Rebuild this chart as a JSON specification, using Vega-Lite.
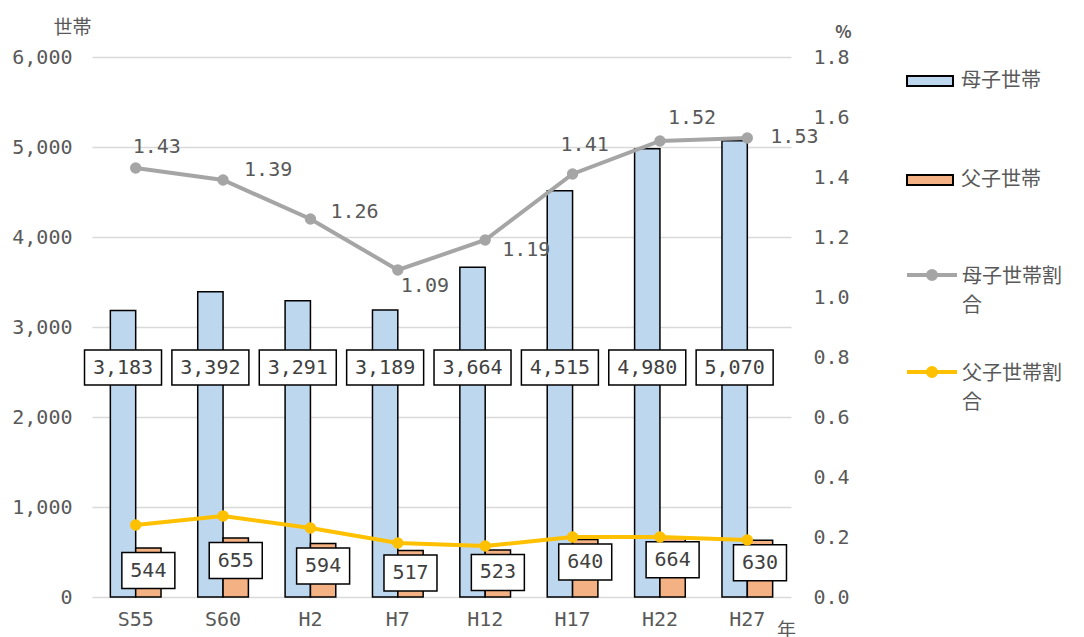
{
  "$schema": "https://vega.github.io/schema/vega-lite/v6.json",
  "width": 699,
  "height": 540,
  "autosize": {"type": "none"},
  "padding": {"left": 92, "top": 57, "right": 293, "bottom": 40},
  "background": "white",
  "config": {
    "view": {"stroke": null},
    "axis": {"labelFont": "DejaVu Sans Mono", "labelFontSize": 20, "labelColor": "#595959"}
  },
  "data": {
    "values": [
      {"年": "S55", "母子世帯": 3183, "父子世帯": 544, "母子世帯割合": 1.43, "父子世帯割合": 0.24},
      {"年": "S60", "母子世帯": 3392, "父子世帯": 655, "母子世帯割合": 1.39, "父子世帯割合": 0.27},
      {"年": "H2", "母子世帯": 3291, "父子世帯": 594, "母子世帯割合": 1.26, "父子世帯割合": 0.23},
      {"年": "H7", "母子世帯": 3189, "父子世帯": 517, "母子世帯割合": 1.09, "父子世帯割合": 0.18},
      {"年": "H12", "母子世帯": 3664, "父子世帯": 523, "母子世帯割合": 1.19, "父子世帯割合": 0.17},
      {"年": "H17", "母子世帯": 4515, "父子世帯": 640, "母子世帯割合": 1.41, "父子世帯割合": 0.20},
      {"年": "H22", "母子世帯": 4980, "父子世帯": 664, "母子世帯割合": 1.52, "父子世帯割合": 0.20},
      {"年": "H27", "母子世帯": 5070, "父子世帯": 630, "母子世帯割合": 1.53, "父子世帯割合": 0.19}
    ]
  },
  "layer": [
    {
      "transform": [{"fold": ["母子世帯", "父子世帯"], "as": ["種別", "世帯数"]}],
      "encoding": {
        "x": {
          "field": "年", "type": "nominal",
          "sort": ["S55", "S60", "H2", "H7", "H12", "H17", "H22", "H27"],
          "scale": {"paddingInner": 0.42, "paddingOuter": 0.21},
          "axis": {"title": "年", "titleX": 694, "titleY": 33, "titleAngle": 0, "titleAlign": "center", "titleBaseline": "middle", "titleFont": "Noto Sans CJK JP", "titleFontSize": 19, "titleFontWeight": "normal", "titleColor": "#595959", "labelAngle": 0, "ticks": false, "domain": false, "labelPadding": 12, "grid": false}
        },
        "xOffset": {"field": "種別", "type": "nominal", "sort": ["母子世帯", "父子世帯"]},
        "y": {
          "field": "世帯数", "type": "quantitative",
          "scale": {"domain": [0, 6000], "nice": false},
          "axis": {"orient": "left", "values": [0, 1000, 2000, 3000, 4000, 5000, 6000], "labelExpr": "format(datum.value, ',')", "title": "世帯", "titleAngle": 0, "titleX": -20, "titleY": -30, "titleAlign": "center", "titleBaseline": "middle", "titleFont": "Noto Sans CJK JP", "titleFontSize": 19, "titleFontWeight": "normal", "titleColor": "#595959", "labelPadding": 20, "grid": true, "gridColor": "#D9D9D9", "gridWidth": 1.5, "domain": false, "ticks": false}
        }
      },
      "layer": [
        {
          "mark": {"type": "bar", "stroke": "black", "strokeWidth": 1.5},
          "encoding": {
            "fill": {
              "field": "種別", "type": "nominal",
              "scale": {"domain": ["母子世帯", "父子世帯"], "range": ["#BDD7EE", "#F4B183"]},
              "legend": {"orient": "none", "legendX": 814, "legendY": 0, "direction": "vertical", "title": null, "padding": 0, "symbolType": "M-1,-0.22H1V0.22H-1Z", "symbolSize": 2116, "symbolStrokeColor": "black", "symbolStrokeWidth": 2, "labelFont": "Noto Sans CJK JP", "labelFontSize": 20, "labelColor": "#595959", "labelOffset": 7, "rowPadding": 65}
            }
          }
        },
        {
          "transform": [{"filter": "datum['種別'] == '母子世帯'"}],
          "mark": {"type": "point", "shape": "M-1,-0.4545H1V0.4545H-1Z", "size": 5929, "filled": true, "fill": "white", "stroke": "black", "strokeWidth": 1.5, "opacity": 1},
          "encoding": {"y": {"datum": 2550, "type": "quantitative"}}
        },
        {
          "transform": [{"filter": "datum['種別'] == '母子世帯'"}],
          "mark": {"type": "text", "font": "DejaVu Sans Mono", "fontSize": 20, "color": "#404040", "baseline": "middle"},
          "encoding": {"y": {"datum": 2550, "type": "quantitative"}, "text": {"field": "世帯数", "type": "quantitative", "format": ","}}
        },
        {
          "transform": [{"filter": "datum['種別'] == '父子世帯'"}],
          "mark": {"type": "point", "shape": "M-1,-0.679H1V0.679H-1Z", "size": 2809, "filled": true, "fill": "white", "stroke": "black", "strokeWidth": 1.5, "opacity": 1, "yOffset": 22.5}
        },
        {
          "transform": [{"filter": "datum['種別'] == '父子世帯'"}],
          "mark": {"type": "text", "font": "DejaVu Sans Mono", "fontSize": 20, "color": "#404040", "baseline": "middle", "dy": 22.5},
          "encoding": {"text": {"field": "世帯数", "type": "quantitative", "format": ","}}
        }
      ]
    },
    {
      "transform": [{"fold": ["母子世帯割合", "父子世帯割合"], "as": ["系列", "割合"]}],
      "encoding": {
        "x": {
          "field": "年", "type": "nominal",
          "sort": ["S55", "S60", "H2", "H7", "H12", "H17", "H22", "H27"],
          "scale": {"paddingInner": 0.42, "paddingOuter": 0.21},
          "axis": {"title": "年", "titleX": 694, "titleY": 33, "titleAngle": 0, "titleAlign": "center", "titleBaseline": "middle", "titleFont": "Noto Sans CJK JP", "titleFontSize": 19, "titleFontWeight": "normal", "titleColor": "#595959", "labelAngle": 0, "ticks": false, "domain": false, "labelPadding": 12, "grid": false}
        },
        "y": {
          "field": "割合", "type": "quantitative",
          "scale": {"domain": [0, 1.8], "nice": false},
          "axis": {"orient": "right", "values": [0, 0.2, 0.4, 0.6, 0.8, 1.0, 1.2, 1.4, 1.6, 1.8], "format": ".1f", "title": "%", "titleAngle": 0, "titleX": 52, "titleY": -25, "titleAlign": "center", "titleBaseline": "middle", "titleFont": "Noto Sans CJK JP", "titleFontSize": 17, "titleFontWeight": "bold", "titleColor": "#595959", "labelPadding": 22, "labelAlign": "left", "grid": false, "domain": false, "ticks": false}
        }
      },
      "layer": [
        {
          "mark": {"type": "line", "strokeWidth": 4},
          "encoding": {
            "color": {
              "field": "系列", "type": "nominal",
              "scale": {"domain": ["母子世帯割合", "父子世帯割合"], "range": ["#A5A5A5", "#FFC000"]},
              "legend": {"orient": "none", "legendX": 813, "legendY": 191, "direction": "vertical", "title": null, "padding": 0, "symbolType": "M-1,0H1M-0.16,0A0.16,0.16 0 1,1 0.16,0A0.16,0.16 0 1,1 -0.16,0", "symbolSize": 2500, "symbolStrokeWidth": 4, "labelFont": "Noto Sans CJK JP", "labelFontSize": 20, "labelColor": "#595959", "labelOffset": 3, "rowPadding": 29, "labelLimit": 200, "labelBaseline": "middle", "labelExpr": "length(datum.label) > 5 ? [substring(datum.label, 0, 5), substring(datum.label, 5)] : datum.label", "encode": {"labels": {"update": {"dy": {"value": 2}, "lineHeight": {"value": 29}}}, "symbols": {"update": {"fill": {"scale": "color", "field": "value"}}}}}
            }
          }
        },
        {
          "mark": {"type": "point", "filled": true, "size": 130, "opacity": 1},
          "encoding": {
            "color": {
              "field": "系列", "type": "nominal",
              "scale": {"domain": ["母子世帯割合", "父子世帯割合"], "range": ["#A5A5A5", "#FFC000"]},
              "legend": {"orient": "none", "legendX": 813, "legendY": 191, "direction": "vertical", "title": null, "padding": 0, "symbolType": "M-1,0H1M-0.16,0A0.16,0.16 0 1,1 0.16,0A0.16,0.16 0 1,1 -0.16,0", "symbolSize": 2500, "symbolStrokeWidth": 4, "labelFont": "Noto Sans CJK JP", "labelFontSize": 20, "labelColor": "#595959", "labelOffset": 3, "rowPadding": 29, "labelLimit": 200, "labelBaseline": "middle", "labelExpr": "length(datum.label) > 5 ? [substring(datum.label, 0, 5), substring(datum.label, 5)] : datum.label", "encode": {"labels": {"update": {"dy": {"value": 2}, "lineHeight": {"value": 29}}}, "symbols": {"update": {"fill": {"scale": "color", "field": "value"}}}}}
            }
          }
        },
        {"transform": [{"filter": "datum['系列'] == '母子世帯割合' && datum['年'] == 'S55'"}], "mark": {"type": "text", "align": "left", "baseline": "middle", "dx": -3, "dy": -21, "font": "DejaVu Sans Mono", "fontSize": 20, "color": "#595959"}, "encoding": {"text": {"field": "割合", "type": "quantitative", "format": ".2f"}}},
        {"transform": [{"filter": "datum['系列'] == '母子世帯割合' && datum['年'] == 'S60'"}], "mark": {"type": "text", "align": "left", "baseline": "middle", "dx": 21, "dy": -10, "font": "DejaVu Sans Mono", "fontSize": 20, "color": "#595959"}, "encoding": {"text": {"field": "割合", "type": "quantitative", "format": ".2f"}}},
        {"transform": [{"filter": "datum['系列'] == '母子世帯割合' && datum['年'] == 'H2'"}], "mark": {"type": "text", "align": "left", "baseline": "middle", "dx": 20, "dy": -7, "font": "DejaVu Sans Mono", "fontSize": 20, "color": "#595959"}, "encoding": {"text": {"field": "割合", "type": "quantitative", "format": ".2f"}}},
        {"transform": [{"filter": "datum['系列'] == '母子世帯割合' && datum['年'] == 'H7'"}], "mark": {"type": "text", "align": "left", "baseline": "middle", "dx": 3, "dy": 16, "font": "DejaVu Sans Mono", "fontSize": 20, "color": "#595959"}, "encoding": {"text": {"field": "割合", "type": "quantitative", "format": ".2f"}}},
        {"transform": [{"filter": "datum['系列'] == '母子世帯割合' && datum['年'] == 'H12'"}], "mark": {"type": "text", "align": "left", "baseline": "middle", "dx": 17, "dy": 10, "font": "DejaVu Sans Mono", "fontSize": 20, "color": "#595959"}, "encoding": {"text": {"field": "割合", "type": "quantitative", "format": ".2f"}}},
        {"transform": [{"filter": "datum['系列'] == '母子世帯割合' && datum['年'] == 'H17'"}], "mark": {"type": "text", "align": "left", "baseline": "middle", "dx": -12, "dy": -29, "font": "DejaVu Sans Mono", "fontSize": 20, "color": "#595959"}, "encoding": {"text": {"field": "割合", "type": "quantitative", "format": ".2f"}}},
        {"transform": [{"filter": "datum['系列'] == '母子世帯割合' && datum['年'] == 'H22'"}], "mark": {"type": "text", "align": "left", "baseline": "middle", "dx": 8, "dy": -23, "font": "DejaVu Sans Mono", "fontSize": 20, "color": "#595959"}, "encoding": {"text": {"field": "割合", "type": "quantitative", "format": ".2f"}}},
        {"transform": [{"filter": "datum['系列'] == '母子世帯割合' && datum['年'] == 'H27'"}], "mark": {"type": "text", "align": "left", "baseline": "middle", "dx": 23, "dy": -1, "font": "DejaVu Sans Mono", "fontSize": 20, "color": "#595959"}, "encoding": {"text": {"field": "割合", "type": "quantitative", "format": ".2f"}}}
      ]
    }
  ],
  "resolve": {"scale": {"y": "independent"}}
}
